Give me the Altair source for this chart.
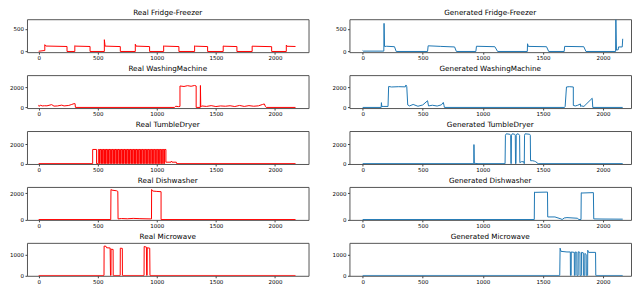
import altair as alt
import pandas as pd

# ---------------- data ----------------
TITLES_REAL = ["Real Fridge-Freezer", "Real WashingMachine", "Real TumbleDryer",
               "Real Dishwasher", "Real Microwave"]
TITLES_GEN = ["Generated Fridge-Freezer", "Generated WashingMachine", "Generated TumbleDryer",
              "Generated Dishwasher", "Generated Microwave"]

X_TICKS = [0, 500, 1000, 1500, 2000]
X_DOMAIN_REAL = [-99, 2284]
X_DOMAIN_GEN = [-110, 2233]

Y_DOMAINS = [[-15, 712], [-63, 3238], [-33, 3333], [-25, 2494], [-15, 1554]]
Y_TICKS = [[0, 500], [0, 2000], [0, 2000], [0, 2000], [0, 1000]]

# Fridge-Freezer
FF_REAL_T = [0, 45, 52, 52, 60, 240, 240, 306, 306, 312, 435, 435, 556, 556, 562, 691, 691,
             818, 818, 824, 939, 939, 1058, 1058, 1064, 1187, 1187, 1320, 1320, 1326, 1430, 1430,
             1562, 1562, 1568, 1678, 1678, 1807, 1807, 1813, 1972, 1972, 2096, 2096, 2102, 2174]
FF_REAL_W = [5, 20, 20, 150, 120, 110, 0, 0, 130, 118, 110, 0, 0, 260, 118, 108, 0,
             0, 160, 118, 108, 0, 0, 125, 118, 108, 0, 0, 125, 117, 108, 0,
             0, 122, 116, 108, 0, 0, 120, 116, 106, 0, 0, 140, 115, 110]
FF_GEN_T = [0, 5, 176, 178, 182, 200, 265, 279, 540, 545, 650, 765, 780, 942, 947, 1100, 1123,
            1370, 1372, 1378, 1530, 1548, 1677, 1681, 1840, 1858, 2105, 2107, 2112, 2127, 2129,
            2160, 2164]
FF_GEN_W = [20, 8, 8, 620, 110, 115, 105, 0, 0, 125, 112, 100, 0, 0, 115, 105, 0,
            0, 170, 112, 105, 0, 0, 112, 105, 0, 0, 700, 30, 40, 100,
            100, 280]

# Washing machine
WM_REAL_T = [0, 5, 15, 30, 50, 70, 110, 130, 160, 195, 215, 255, 280, 300, 308, 311,
             1150, 1160, 1185, 1196, 1196, 1230, 1260, 1290, 1320, 1333, 1333, 1368, 1369, 1372,
             1380, 1420, 1460, 1500, 1540, 1580, 1620, 1660, 1700, 1740, 1780, 1820, 1860,
             1895, 1910, 1920, 1926, 2174]
WM_REAL_W = [250, 100, 230, 150, 170, 160, 280, 130, 150, 230, 150, 200, 300, 380, 380, 0,
             0, 120, 80, 100, 2150, 2100, 2180, 2120, 2200, 2150, 0, 0, 2200, 50,
             150, 100, 180, 90, 150, 120, 170, 90, 200, 100, 180, 120, 160,
             300, 350, 80, 0, 0]
WM_GEN_T = [0, 154, 156, 159, 170, 211, 216, 240, 300, 355, 360, 367, 375, 390, 420, 460, 500,
            540, 548, 580, 620, 655, 671, 677, 680, 1680, 1685, 1696, 1720, 1753, 1753, 1770, 1790,
            1812, 1814, 1820, 1841, 1910, 1915, 2164]
WM_GEN_W = [0, 0, 480, 100, 100, 100, 2100, 2050, 2080, 2060, 2250, 2080, 250, 150, 300, 120, 250,
            670, 150, 220, 140, 260, 500, 200, 0, 0, 100, 2050, 2080, 2050, 200, 150, 220,
            350, 100, 150, 100, 920, 0, 0]

# Tumble dryer
TD_REAL_LEVEL = 1450
TD_REAL_START = 457
TD_REAL_DOWN = [490, 515, 528, 541, 553, 566, 578, 591, 604, 616, 629, 642, 655, 667, 680, 693,
                706, 718, 731, 744, 757, 769, 782, 795, 808, 820, 833, 846, 859, 871, 884, 897,
                910, 922, 935, 948, 961, 973, 986, 999, 1012, 1024, 1037, 1050, 1063]
TD_REAL_UP = [505, 519, 532, 545, 557, 569, 582, 595, 607, 620, 633, 646, 658, 671, 684, 697,
              709, 722, 735, 748, 760, 773, 786, 799, 811, 824, 837, 850, 862, 875, 888, 901,
              913, 926, 939, 952, 964, 977, 990, 1003, 1015, 1028, 1041, 1054, 1066]
TD_REAL_TAIL_T = [1077, 1077, 1120, 1124, 1128, 1165, 1168, 2174]
TD_REAL_TAIL_W = [1450, 150, 150, 260, 150, 150, 0, 0]
TD_GEN_T = [0, 925, 926, 929, 935, 960, 1185, 1188, 1195, 1225, 1232, 1234, 1236, 1238, 1245,
            1265, 1270, 1272, 1276, 1278, 1285, 1300, 1306, 1308, 1320, 1340, 1345, 1347, 1352,
            1390, 1395, 1397, 1415, 1430, 1440, 1460, 2164]
TD_GEN_W = [0, 0, 1950, 0, 30, 0, 0, 2900, 3050, 3000, 2900, 0, 0, 2900, 3050,
            3000, 2900, 0, 0, 2900, 3050, 3000, 2900, 100, 200, 200, 0, 2900, 3050,
            3000, 2900, 300, 300, 250, 200, 0, 0]

# Dishwasher
DW_REAL_T = [0, 610, 612, 620, 660, 670, 672, 700, 750, 800, 850, 900, 950, 955, 956, 965, 1000,
             1036, 1036, 2174]
DW_REAL_W = [0, 0, 2300, 2250, 2200, 2150, 50, 80, 60, 90, 70, 60, 50, 50, 2300, 2180, 2150,
             2130, 0, 0]
DW_GEN_T = [0, 1428, 1430, 1435, 1538, 1540, 1600, 1650, 1660, 1677, 1700, 1786, 1800, 1817,
            1819, 1825, 1920, 1923, 2000, 2164]
DW_GEN_W = [0, 0, 2100, 2080, 2100, 200, 200, 50, 0, 120, 150, 100, 0, 0,
            2050, 2030, 2060, 50, 40, 30]

# Microwave
MW_REAL_T = [0, 553, 554, 570, 575, 605, 608, 612, 613, 630, 631, 690, 691, 708, 709,
             892, 893, 912, 914, 918, 919, 940, 942, 2174]
MW_REAL_W = [0, 0, 1400, 1390, 1320, 1310, 0, 0, 1250, 1240, 0, 0, 1300, 1290, 0,
             0, 1380, 1350, 0, 0, 1320, 1300, 0, 0]
MW_GEN_T = [0, 1640, 1643, 1650, 1700, 1728, 1729, 1735, 1736, 1761, 1762, 1768, 1769, 1782,
            1783, 1793, 1794, 1808, 1809, 1820, 1821, 1836, 1837, 1848, 1849, 1860, 1861, 1872,
            1873, 1880, 1938, 1940, 2164]
MW_GEN_W = [0, 0, 1300, 1150, 1120, 1120, 0, 0, 1120, 1100, 0, 0, 1120, 1100,
            0, 0, 1130, 1100, 0, 0, 1100, 1080, 0, 0, 1050, 1000, 0, 0,
            1200, 1100, 1100, 0, 0]

RED = "#ff0000"
BLUE = "#1f77b4"

# build tumble-dryer real vertex list from its arrays
td_t = [0, TD_REAL_START, TD_REAL_START]
td_w = [0, 0, TD_REAL_LEVEL]
for d, u in zip(TD_REAL_DOWN, TD_REAL_UP):
    td_t += [d, d, u, u]
    td_w += [TD_REAL_LEVEL, 0, 0, TD_REAL_LEVEL]
td_t += TD_REAL_TAIL_T
td_w += TD_REAL_TAIL_W

REAL = [(FF_REAL_T, FF_REAL_W), (WM_REAL_T, WM_REAL_W), (td_t, td_w),
        (DW_REAL_T, DW_REAL_W), (MW_REAL_T, MW_REAL_W)]
GEN = [(FF_GEN_T, FF_GEN_W), (WM_GEN_T, WM_GEN_W), (TD_GEN_T, TD_GEN_W),
       (DW_GEN_T, DW_GEN_W), (MW_GEN_T, MW_GEN_W)]

W, H = 282, 33


def panel(t, w, color, title, xdom, ydom, yticks):
    df = pd.DataFrame({"t": t, "w": w, "o": list(range(len(t)))})
    return alt.Chart(df).mark_line(color=color, strokeWidth=1, strokeJoin="round",
                                   clip=True).encode(
        x=alt.X("t:Q", scale=alt.Scale(domain=xdom, nice=False, zero=False),
                axis=alt.Axis(values=X_TICKS, format="d", title=None)),
        y=alt.Y("w:Q", scale=alt.Scale(domain=ydom, nice=False, zero=False),
                axis=alt.Axis(values=yticks, format="d", title=None)),
        order="o:Q",
    ).properties(
        width=W, height=H,
        title=alt.TitleParams(title, fontSize=7.25, font="DejaVu Sans", fontWeight="normal",
                              offset=3, anchor="middle", color="#000"),
    )


panels = []
for i in range(5):
    panels.append(panel(REAL[i][0], REAL[i][1], RED, TITLES_REAL[i], X_DOMAIN_REAL,
                        Y_DOMAINS[i], Y_TICKS[i]))
    panels.append(panel(GEN[i][0], GEN[i][1], BLUE, TITLES_GEN[i], X_DOMAIN_GEN,
                        Y_DOMAINS[i], Y_TICKS[i]))

chart = alt.concat(*panels, columns=2, spacing={"row": 23, "column": 41}, bounds="flush").properties(
    padding={"left": 1, "top": 0, "right": 0, "bottom": 0}, background="white"
).configure_axis(
    labelFont="DejaVu Sans", labelFontSize=5.5, labelColor="#000",
    tickColor="#444", tickSize=2, labelPadding=1.5, domain=False, grid=False,
).configure_view(stroke="#555", strokeWidth=1)

chart.save("out.html", embed_options={"renderer": "svg", "actions": False})
